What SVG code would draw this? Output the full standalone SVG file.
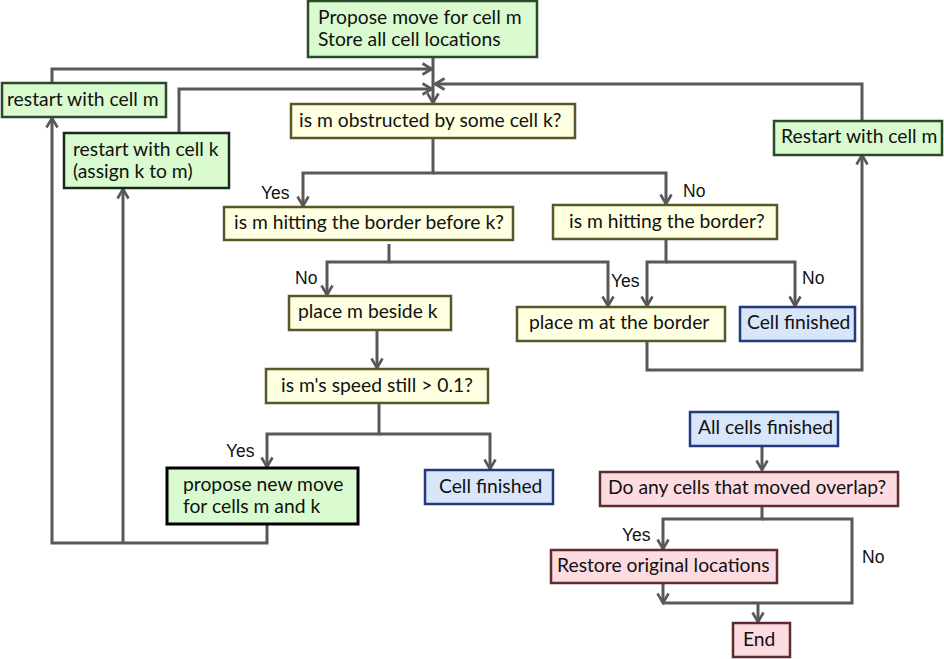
<svg xmlns="http://www.w3.org/2000/svg" width="944" height="659" viewBox="0 0 944 659">
<defs>
<style>
.t{font-family:Lato,"Open Sans","Liberation Sans",sans-serif;font-size:19.3px;fill:#111}
.lb{font-family:"Liberation Sans",Arial,sans-serif;font-size:17.5px;fill:#111}
.g{fill:#d9fbcf;stroke:#2b4a2b;stroke-width:2.5}
.gk{fill:#d9fbcf;stroke:#1a2a1a;stroke-width:2.5}
.gb{fill:#d9fbcf;stroke:#000;stroke-width:3}
.y{fill:#ffffe1;stroke:#57572a;stroke-width:2.5}
.b{fill:#d8e6fb;stroke:#24397c;stroke-width:2.5}
.p{fill:#fcdbe1;stroke:#5e2b2e;stroke-width:2.5}
.ln{fill:none;stroke:#585858;stroke-width:3}
</style>
<marker id="ah" viewBox="0 0 14 14" refX="12.5" refY="7" markerWidth="14" markerHeight="14" markerUnits="userSpaceOnUse" orient="auto">
<path d="M3,1.5 L12.5,7 L3,12.5" fill="none" stroke="#585858" stroke-width="2.6"/>
</marker>
</defs>
<rect width="944" height="659" fill="#fff"/>
<g id="connectors">
<path class="ln" d="M433,58 V103" marker-end="url(#ah)"/>
<path class="ln" d="M52,83 V69 H432" marker-end="url(#ah)"/>
<path class="ln" d="M179,133 V89 H432" marker-end="url(#ah)"/>
<path class="ln" d="M862,121 V84 H435" marker-end="url(#ah)"/>
<path class="ln" d="M433,138 V173 H303 V206" marker-end="url(#ah)"/>
<path class="ln" d="M433,173 H666 V204" marker-end="url(#ah)"/>
<path class="ln" d="M389,244 V262 H327 V295" marker-end="url(#ah)"/>
<path class="ln" d="M389,262 H608 V306" marker-end="url(#ah)"/>
<path class="ln" d="M666,239 V262 H647 V306" marker-end="url(#ah)"/>
<path class="ln" d="M666,262 H795 V306" marker-end="url(#ah)"/>
<path class="ln" d="M647,341 V370 H862 V155" marker-end="url(#ah)"/>
<path class="ln" d="M377,330 V368" marker-end="url(#ah)"/>
<path class="ln" d="M379,403 V434 H267 V467" marker-end="url(#ah)"/>
<path class="ln" d="M379,434 H490 V469" marker-end="url(#ah)"/>
<path class="ln" d="M267,524 V543 H52 V118" marker-end="url(#ah)"/>
<path class="ln" d="M123,543 V189" marker-end="url(#ah)"/>
<path class="ln" d="M762,446 V470" marker-end="url(#ah)"/>
<path class="ln" d="M762,506 V519 H663 V549" marker-end="url(#ah)"/>
<path class="ln" d="M762,519 H852 V603 H663"/>
<path class="ln" d="M663,583 V603" marker-end="url(#ah)"/>
<path class="ln" d="M758,603 V622" marker-end="url(#ah)"/>
</g>
<g id="labels">
<text class="lb" x="261" y="199">Yes</text>
<text class="lb" x="683" y="197">No</text>
<text class="lb" x="295" y="284">No</text>
<text class="lb" x="611" y="287">Yes</text>
<text class="lb" x="802" y="284">No</text>
<text class="lb" x="226" y="457">Yes</text>
<text class="lb" x="622" y="541">Yes</text>
<text class="lb" x="862" y="563">No</text>
</g>
<g id="n-propose"><rect class="g" x="308" y="1" width="229" height="56"/><text class="t" x="318" y="24">Propose move for cell m</text><text class="t" x="318" y="46">Store all cell locations</text></g>
<g id="n-restart-m"><rect class="g" x="2" y="83" width="164" height="34"/><text class="t" x="7" y="106">restart with cell m</text></g>
<g id="n-restart-k"><rect class="gk" x="64" y="133" width="165" height="55"/><text class="t" x="73" y="156">restart with cell k</text><text class="t" x="73" y="178">(assign k to m)</text></g>
<g id="n-obstructed"><rect class="y" x="291" y="104" width="284" height="34"/><text class="t" x="299" y="127">is m obstructed by some cell k?</text></g>
<g id="n-restart-m2"><rect class="g" x="774" y="121" width="168" height="34"/><text class="t" x="781" y="143">Restart with cell m</text></g>
<g id="n-before-k"><rect class="y" x="224" y="207" width="289" height="33"/><text class="t" x="234" y="229">is m hitting the border before k?</text></g>
<g id="n-border"><rect class="y" x="553" y="205" width="224" height="34"/><text class="t" x="569" y="228">is m hitting the border?</text></g>
<g id="n-beside"><rect class="y" x="289" y="296" width="162" height="34"/><text class="t" x="298" y="318">place m beside k</text></g>
<g id="n-at-border"><rect class="y" x="517" y="307" width="208" height="34"/><text class="t" x="529" y="329">place m at the border</text></g>
<g id="n-finished1"><rect class="b" x="740" y="307" width="115" height="34"/><text class="t" x="747" y="329">Cell finished</text></g>
<g id="n-speed"><rect class="y" x="266" y="369" width="222" height="34"/><text class="t" x="281" y="392">is m's speed still &gt; 0.1?</text></g>
<g id="n-propose-new"><rect class="gb" x="167" y="468" width="191" height="56"/><text class="t" x="183" y="491">propose new move</text><text class="t" x="183" y="513">for cells m and k</text></g>
<g id="n-finished2"><rect class="b" x="425" y="470" width="128" height="34"/><text class="t" x="439" y="493">Cell finished</text></g>
<g id="n-all"><rect class="b" x="690" y="412" width="148" height="34"/><text class="t" x="698" y="434">All cells finished</text></g>
<g id="n-overlap"><rect class="p" x="600" y="472" width="298" height="34"/><text class="t" x="608" y="494">Do any cells that moved overlap?</text></g>
<g id="n-restore"><rect class="p" x="551" y="550" width="226" height="33"/><text class="t" x="557" y="572">Restore original locations</text></g>
<g id="n-end"><rect class="p" x="733" y="623" width="57" height="34"/><text class="t" x="743" y="646">End</text></g>
</svg>
